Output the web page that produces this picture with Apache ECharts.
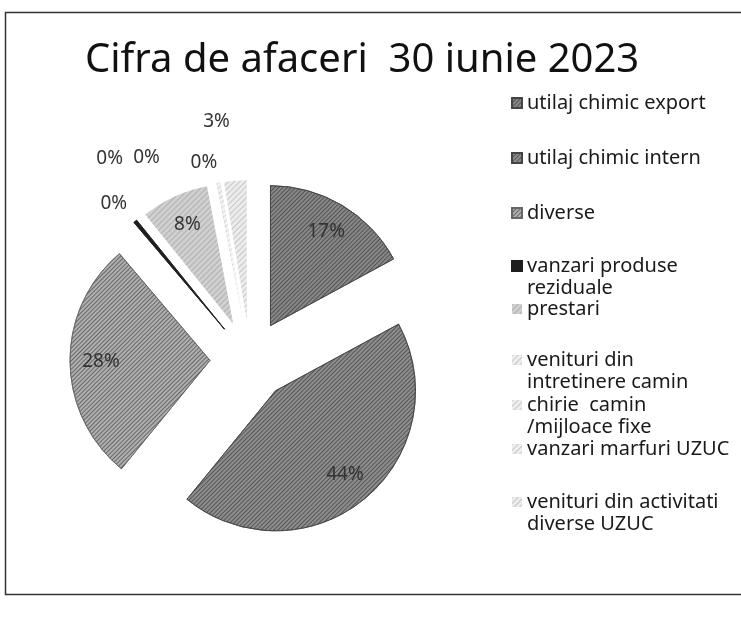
<!DOCTYPE html>
<html>
<head>
    <meta charset="UTF-8">
    <title>Cifra de afaceri</title>
    <script src="https://cdn.jsdelivr.net/npm/echarts@6/dist/echarts.min.js"></script>
    <style>
        *{margin:0;padding:0}
        html,body{width:100%;height:100%;background:#fff}
        #main{width:741px;height:626px}
    </style>
</head>
<body>
    <div id="main"></div>
    <script type="text/javascript">
        // categorii (ordinea din legenda) si valorile, in %
        var categorii = [
            'utilaj chimic export',
            'utilaj chimic intern',
            'diverse',
            'vanzari produse\nreziduale',
            'prestari',
            'venituri din\nintretinere camin',
            'chirie  camin\n/mijloace fixe',
            'vanzari marfuri UZUC',
            'venituri din activitati\ndiverse UZUC'
        ];
        var valori = [17.1, 43.8, 27.9, 0.4, 7.8, 0.2, 0.1, 0.1, 2.6];

        var culori = ['#888888', '#8e8e8e', '#b0b0b0', '#1e1e1e', '#d0d0d0', '#eeeeee', '#eeeeee', '#eeeeee', '#ececec'];
        var margini = ['#444', '#444', '#666', '#1e1e1e', 'rgba(0,0,0,0)', 'rgba(0,0,0,0)', 'rgba(0,0,0,0)', 'rgba(0,0,0,0)', 'rgba(0,0,0,0)'];
        // centrul primului rand de text din legenda
        var legendY = [98, 153, 208, 261, 304, 355, 400, 444, 497];
        // deplasarea etichetelor mici (ca in Excel, unde se suprapun)
        var labelShift = [null, null, null, [16, 5], null, [-84, 5], [-49, 4], [7, 10], [2, -29]];
        var fontText = 'Noto Sans, sans-serif';

        var total = valori.reduce(function (a, b) { return a + b; }, 0);
        var mijloc = [];
        var acc = 0;
        valori.forEach(function (v) {
            mijloc.push((acc + v / 2) / total * 2 * Math.PI);
            acc += v;
        });

        var myChart = echarts.init(document.getElementById('main'));

        var dataList = categorii.map(function (c, i) {
            var mare = valori[i] >= 5;
            return {
                name: c,
                value: valori[i],
                selected: true,
                itemStyle: {
                    color: culori[i],
                    borderColor: margini[i],
                    decal: {
                        symbol: 'rect',
                        symbolSize: 1,
                        dashArrayX: [1, 0],
                        dashArrayY: i < 3 ? [1, 2] : [1, 3],
                        rotation: -Math.PI / 4,
                        color: i === 3 ? 'rgba(0,0,0,0)' : 'rgba(30,30,30,' + (i < 3 ? 0.5 : 0.18) + ')'
                    }
                },
                label: {position: mare ? 'inside' : 'outside'}
            };
        });

        var legende = categorii.map(function (c, i) {
            var doua = c.indexOf('\n') >= 0;
            return {
                orient: 'vertical',
                left: 506,
                top: legendY[i] - 11 - (doua ? 22 : 0),
                data: [c],
                itemWidth: 10,
                itemHeight: 10,
                itemGap: 0,
                icon: 'rect',
                formatter: function (name) { return doua ? '\n' + name : name; },
                textStyle: {fontFamily: fontText, fontSize: 20, color: '#1a1a1a', lineHeight: 22}
            };
        });

        var option = {
            aria: {enabled: true, decal: {show: true}},
            animation: false,
            title: {
                text: 'Cifra de afaceri  30 iunie 2023',
                left: 80,
                top: 36,
                textStyle: {fontFamily: fontText, fontSize: 40, fontWeight: 'normal', color: '#111'}
            },
            legend: legende,
            graphic: [{
                type: 'rect',
                shape: {x: 5.5, y: 12.5, width: 800, height: 582},
                style: {fill: 'none', stroke: '#333', lineWidth: 1.5},
                silent: true
            }],
            series: [{
                name: 'Cifra de afaceri',
                type: 'pie',
                center: [250, 360],
                radius: 140,
                startAngle: 90,
                clockwise: true,
                selectedMode: 'multiple',
                selectedOffset: 40,
                avoidLabelOverlap: false,
                itemStyle: {borderWidth: 0.8},
                label: {
                    show: true,
                    formatter: function (p) { return Math.round(p.percent) + '%'; },
                    fontFamily: fontText,
                    fontSize: 19,
                    color: '#333'
                },
                labelLine: {show: false, length: 30, length2: 0},
                labelLayout: function (p) {
                    var s = labelShift[p.dataIndex];
                    if (s) return {dx: s[0], dy: s[1]};
                    var a = mijloc[p.dataIndex];
                    return {dx: Math.sin(a) * 36, dy: -Math.cos(a) * 36};
                },
                data: dataList
            }]
        };
        myChart.setOption(option);
    </script>
</body>
</html>
